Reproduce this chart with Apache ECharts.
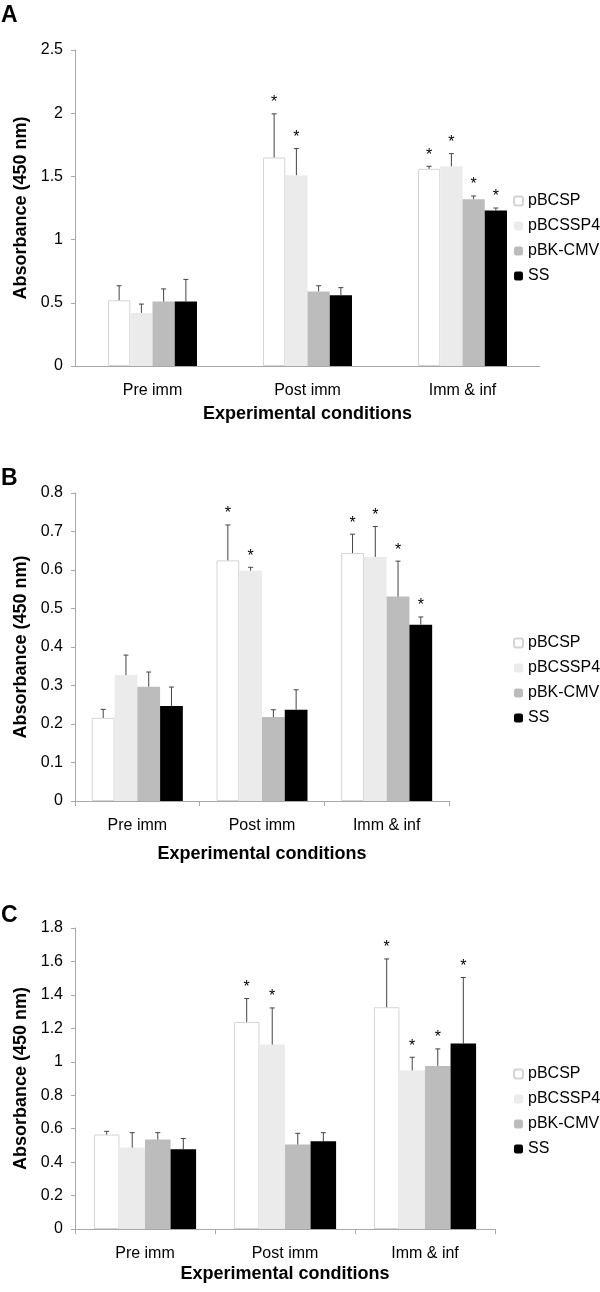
<!DOCTYPE html>
<html>
<head>
<meta charset="utf-8">
<script src="https://cdn.jsdelivr.net/npm/echarts@6/dist/echarts.min.js"></script>
<style>
  html, body { margin: 0; padding: 0; background: #fff; }
  #chart { width: 600px; height: 1292px; }
</style>
</head>
<body>
<div id="chart"></div>
<script>
'use strict'

var categories = ['Pre imm', 'Post imm', 'Imm & inf'];
var groupNames = ['pBCSP', 'pBCSSP4', 'pBK-CMV', 'SS'];

// panel A
var aPBCSP = [0.52, 1.65, 1.56];
var aPBCSSP4 = [0.42, 1.51, 1.58];
var aPBKCMV = [0.51, 0.59, 1.32];
var aSS = [0.51, 0.56, 1.23];
var aErrPBCSP = [0.115, 0.345, 0.02];
var aErrPBCSSP4 = [0.07, 0.21, 0.10];
var aErrPBKCMV = [0.10, 0.045, 0.025];
var aErrSS = [0.175, 0.06, 0.02];

// panel B
var bPBCSP = [0.216, 0.625, 0.644];
var bPBCSSP4 = [0.327, 0.598, 0.634];
var bPBKCMV = [0.297, 0.218, 0.531];
var bSS = [0.247, 0.237, 0.458];
var bErrPBCSP = [0.022, 0.092, 0.049];
var bErrPBCSSP4 = [0.052, 0.009, 0.079];
var bErrPBKCMV = [0.038, 0.019, 0.092];
var bErrSS = [0.049, 0.052, 0.02];

// panel C
var cPBCSP = [0.565, 1.238, 1.326];
var cPBCSSP4 = [0.487, 1.103, 0.949];
var cPBKCMV = [0.535, 0.505, 0.975];
var cSS = [0.477, 0.525, 1.109];
var cErrPBCSP = [0.019, 0.14, 0.289];
var cErrPBCSSP4 = [0.089, 0.219, 0.078];
var cErrPBKCMV = [0.041, 0.067, 0.102];
var cErrSS = [0.064, 0.051, 0.395];

// significance (*) flags, same for every panel
var sigPBCSP = [0, 1, 1];
var sigPBCSSP4 = [0, 1, 1];
var sigPBKCMV = [0, 0, 1];
var sigSS = [0, 0, 1];

// y axis ticks
var aTicks = { max: 2.5, interval: 0.5 };
var bTicks = { max: 0.8, interval: 0.1 };
var cTicks = { max: 1.8, interval: 0.2 };

var panels = [
    { letter: 'A', values: [aPBCSP, aPBCSSP4, aPBKCMV, aSS], errs: [aErrPBCSP, aErrPBCSSP4, aErrPBKCMV, aErrSS],
      ticks: aTicks, grid: { left: 75, top: 50, width: 465, height: 316 }, gap: 0.426, xTick: false,
      nameGap: 39, legendTop: 193, letterTop: 4 },
    { letter: 'B', values: [bPBCSP, bPBCSSP4, bPBKCMV, bSS], errs: [bErrPBCSP, bErrPBCSSP4, bErrPBKCMV, bErrSS],
      ticks: bTicks, grid: { left: 75, top: 493, width: 374, height: 308 }, gap: 0.27, xTick: true,
      nameGap: 44, legendTop: 635, letterTop: 467 },
    { letter: 'C', values: [cPBCSP, cPBCSSP4, cPBKCMV, cSS], errs: [cErrPBCSP, cErrPBCSSP4, cErrPBKCMV, cErrSS],
      ticks: cTicks, grid: { left: 75, top: 928, width: 420, height: 301 }, gap: 0.27, xTick: true,
      nameGap: 36, legendTop: 1066, letterTop: 904 }
];
var sigs = [sigPBCSP, sigPBCSSP4, sigPBKCMV, sigSS];

var barStyles = [
    { color: '#ffffff', borderColor: '#d4d4d4', borderWidth: 1 },
    { color: '#ebebeb', decal: { symbol: 'rect', symbolSize: 0.35, dashArrayX: [2, 1], dashArrayY: [2, 1], color: 'rgba(255,255,255,0.35)', rotation: 0 } },
    { color: '#bcbcbc' },
    { color: '#000000' }
];

var font = 'Liberation Sans, Arial, Helvetica, sans-serif';
var axisGray = '#a8a8a8';

var grids = [], xAxes = [], yAxes = [], series = [], legends = [], graphics = [];

panels.forEach(function (p, pi) {
    grids.push(p.grid);
    xAxes.push({
        type: 'category',
        gridIndex: pi,
        data: categories,
        name: 'Experimental conditions',
        nameLocation: 'middle',
        nameGap: p.nameGap,
        nameTextStyle: { fontFamily: font, fontSize: 18, fontWeight: 'bold', color: '#000' },
        axisLine: { lineStyle: { color: axisGray, width: 1 } },
        axisTick: { show: p.xTick, length: 5, lineStyle: { color: axisGray } },
        axisLabel: { fontFamily: font, fontSize: 16, color: '#000', margin: 17 }
    });
    yAxes.push({
        type: 'value',
        gridIndex: pi,
        min: 0,
        max: p.ticks.max,
        interval: p.ticks.interval,
        name: 'Absorbance (450 nm)',
        nameLocation: 'middle',
        nameGap: 43,
        nameTextStyle: { fontFamily: font, fontSize: 18, fontWeight: 'bold', color: '#000' },
        axisLine: { show: true, lineStyle: { color: axisGray, width: 1 } },
        axisTick: { show: true, length: 4, lineStyle: { color: axisGray } },
        axisLabel: { fontFamily: font, fontSize: 16, color: '#000', margin: 12 },
        splitLine: { show: false }
    });

    groupNames.forEach(function (name, si) {
        series.push({
            name: name,
            type: 'bar',
            xAxisIndex: pi,
            yAxisIndex: pi,
            barGap: '0%',
            barCategoryGap: (p.gap * 100) + '%',
            itemStyle: barStyles[si],
            emphasis: { disabled: true },
            data: p.values[si]
        });
    });

    // error bars + asterisks
    var errData = [];
    groupNames.forEach(function (name, si) {
        categories.forEach(function (c, ci) {
            errData.push([ci, si, p.values[si][ci], p.errs[si][ci], sigs[si][ci]]);
        });
    });
    series.push({
        type: 'custom',
        xAxisIndex: pi,
        yAxisIndex: pi,
        silent: true,
        z: 5,
        data: errData,
        renderItem: function (params, api) {
            var ci = api.value(0), si = api.value(1);
            var val = api.value(2), err = api.value(3), sig = api.value(4);
            var base = api.coord([ci, val]);
            var top = api.coord([ci, val + err]);
            var band = api.size([1, 0])[0];
            var groupW = band * (1 - p.gap);
            var barW = groupW / 4;
            var x = base[0] - groupW / 2 + barW * (si + 0.5);
            var children = [
                { type: 'line', shape: { x1: x, y1: base[1], x2: x, y2: top[1] },
                  style: { stroke: '#444', lineWidth: 1 } },
                { type: 'line', shape: { x1: x - 2.5, y1: top[1], x2: x + 2.5, y2: top[1] },
                  style: { stroke: '#444', lineWidth: 1 } }
            ];
            if (sig) {
                children.push({ type: 'text', x: x, y: top[1] - 3,
                    style: { text: '*', fontFamily: font, fontSize: 16, fill: '#000',
                             align: 'center', verticalAlign: 'bottom' } });
            }
            return { type: 'group', children: children };
        }
    });

    legends.push({
        orient: 'vertical',
        left: 513,
        top: p.legendTop,
        padding: 0,
        itemWidth: 9,
        itemHeight: 9,
        itemGap: 9,
        data: groupNames,
        selectedMode: false,
        textStyle: { fontFamily: font, fontSize: 16, color: '#000', lineHeight: 16 }
    });

    graphics.push({
        type: 'text',
        left: 1,
        top: p.letterTop,
        style: { text: p.letter, fontFamily: font, fontSize: 23, fontWeight: 'bold', fill: '#000' }
    });
});

var myChart = echarts.init(document.getElementById('chart'));
myChart.setOption({
    animation: false,
    backgroundColor: '#fff',
    grid: grids,
    xAxis: xAxes,
    yAxis: yAxes,
    legend: legends,
    graphic: graphics,
    series: series
});
</script>
</body>
</html>
